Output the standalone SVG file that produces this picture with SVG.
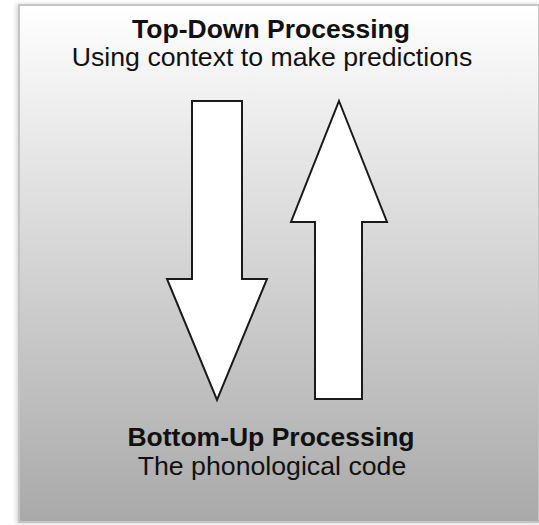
<svg xmlns="http://www.w3.org/2000/svg" width="539" height="525" viewBox="0 0 539 525">
  <defs>
    <linearGradient id="panelFill" x1="0" y1="0" x2="0" y2="1">
      <stop offset="0" stop-color="#ffffff"/>
      <stop offset="0.15" stop-color="#f2f2f2"/>
      <stop offset="1" stop-color="#a9a9a9"/>
    </linearGradient>
    <filter id="shadow" x="-5%" y="-5%" width="110%" height="110%">
      <feGaussianBlur stdDeviation="2"/>
    </filter>
  </defs>
  <style>
    .title { font-family: 'Liberation Sans', Arial, sans-serif; font-weight: bold; font-size: 26.5px; fill: #111; text-anchor: middle; }
    .sub { font-family: 'Liberation Sans', Arial, sans-serif; font-size: 26.7px; fill: #111; text-anchor: middle; }
    .arrow { fill: #ffffff; stroke: #1a1a1a; stroke-width: 2; stroke-linejoin: miter; }
  </style>
  <rect width="539" height="525" fill="#ffffff"/>
  <!-- panel with soft edge shadow -->
  <g id="panel">
    <rect x="16" y="4" width="524" height="520" fill="#d8d8d8" filter="url(#shadow)"/>
    <rect x="19" y="5" width="520" height="517" fill="url(#panelFill)" stroke="#c4c4c4" stroke-width="2"/>
  </g>
  <g id="top-label">
    <text class="title" x="271" y="38">Top-Down Processing</text>
    <text class="sub" x="272" y="66">Using context to make predictions</text>
  </g>
  <g id="bottom-label">
    <text class="title" x="271" y="446">Bottom-Up Processing</text>
    <text class="sub" x="272" y="475">The phonological code</text>
  </g>
  <g id="connectors">
    <g id="down-arrow">
      <polygon class="arrow" points="192,101 242,101 242,279 267,279 217,400 167,279 192,279"/>
    </g>
    <g id="up-arrow">
      <polygon class="arrow" points="339,101 387,222 362,222 362,399 315,399 315,222 291,222"/>
    </g>
  </g>
</svg>
